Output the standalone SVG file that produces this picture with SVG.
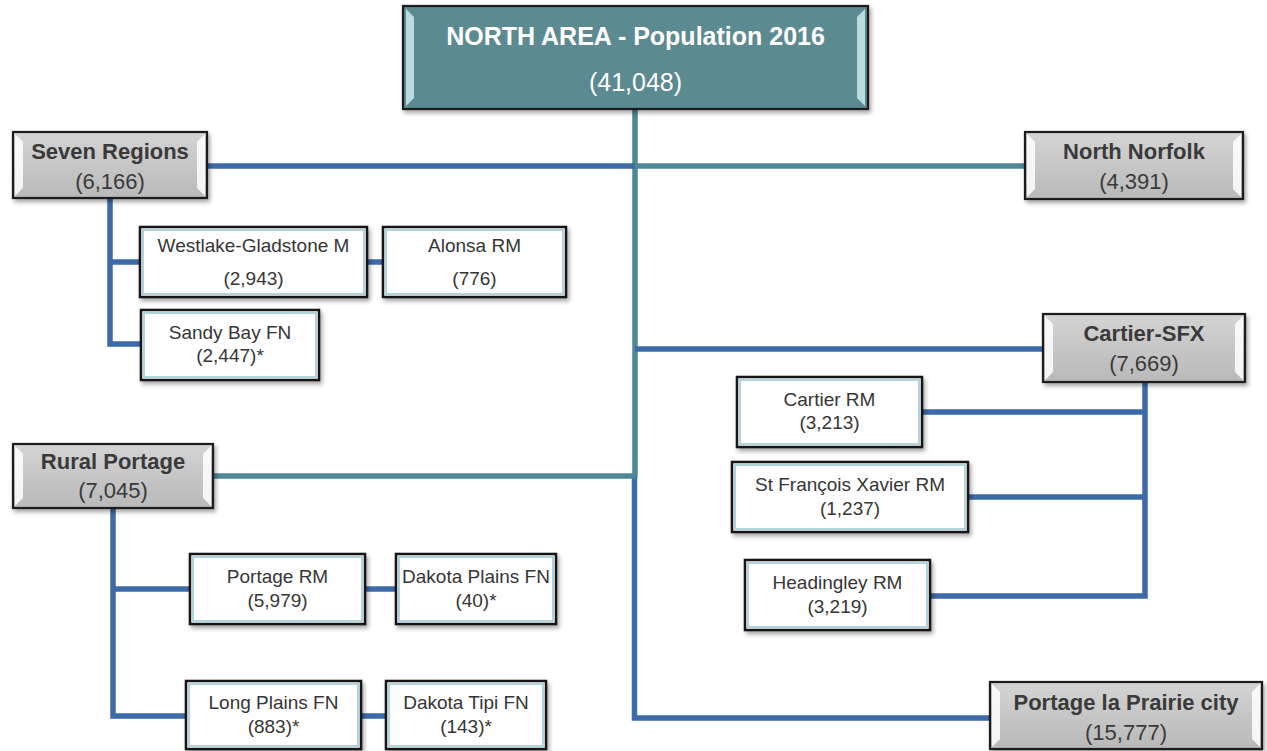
<svg xmlns="http://www.w3.org/2000/svg" width="1267" height="751" viewBox="0 0 1267 751">
<style>
.lb{stroke:#3d6aa8;stroke-width:5.5;fill:none}
.lt{stroke:#4e8795;stroke-width:5.5;fill:none}
.bx{fill:#fff;stroke:#141414;stroke-width:2.5}
.bxi{fill:none;stroke:#a9cfdb;stroke-width:1.8}
.hd{fill:url(#gg);stroke:#1a1a1a;stroke-width:2.2}
.tp{fill:#5c8a91;stroke:#1a1a1a;stroke-width:2.2}
.bv{fill:#ffffff;opacity:0.85}
.bvt{fill:#c4e4e8;opacity:0.9}
.t{font-family:"Liberation Sans",Arial,sans-serif;font-size:19px;fill:#363636;text-anchor:middle}
.hb{font-family:"Liberation Sans",Arial,sans-serif;font-size:22px;font-weight:bold;fill:#3a3a3a;text-anchor:middle}
.hr{font-family:"Liberation Sans",Arial,sans-serif;font-size:22px;fill:#3a3a3a;text-anchor:middle}
.tb{font-family:"Liberation Sans",Arial,sans-serif;font-size:25px;font-weight:bold;fill:#fff;text-anchor:middle}
.tr{font-family:"Liberation Sans",Arial,sans-serif;font-size:25px;fill:#fff;text-anchor:middle}
</style>
<defs>
<linearGradient id="gg" x1="0" y1="0" x2="0" y2="1">
<stop offset="0" stop-color="#d4d4d4"/>
<stop offset="1" stop-color="#b9b9b9"/>
</linearGradient>
<filter id="sh" x="-10%" y="-10%" width="125%" height="135%">
<feDropShadow dx="2" dy="3" stdDeviation="2" flood-color="#000" flood-opacity="0.35"/>
</filter>
</defs>
<rect width="1267" height="751" fill="#fff"/>
<g id="connectors">
<path class="lt" d="M635,109 V477"/>
<path class="lb" d="M634.5,477 V718 H990"/>
<path class="lb" d="M207,166 H635"/>
<path class="lt" d="M635,166 H1025"/>
<path class="lb" d="M635,349 H1043"/>
<path class="lt" d="M213,476 H635"/>
<path class="lb" d="M110,198 V344 H141"/>
<path class="lb" d="M110,262 H140"/>
<path class="lb" d="M367,262 H383"/>
<path class="lb" d="M1145,382 V596 H930"/>
<path class="lb" d="M1145,412 H922"/>
<path class="lb" d="M1145,497 H968"/>
<path class="lb" d="M113,508 V716 H186"/>
<path class="lb" d="M113,589 H190"/>
<path class="lb" d="M365,589 H396"/>
<path class="lb" d="M361,716 H386"/>
</g>
<g id="north-area">
<rect class="tp" x="403" y="6" width="465" height="103" filter="url(#sh)"/>
<polygon class="bvt" points="406,9 414,17 414,98 406,106"/>
<polygon class="bvt" points="865,9 857,17 857,98 865,106"/>
<text class="tb" x="635.5" y="45">NORTH AREA - Population 2016</text>
<text class="tr" x="635.5" y="91">(41,048)</text>
</g>
<g id="seven-regions">
<rect class="hd" x="13" y="132" width="194" height="66" filter="url(#sh)"/>
<polygon class="bv" points="15,134 23,142 23,188 15,196"/>
<polygon class="bv" points="205,134 197,142 197,188 205,196"/>
<text class="hb" x="110" y="159">Seven Regions</text>
<text class="hr" x="110" y="189">(6,166)</text>
</g>
<g id="north-norfolk">
<rect class="hd" x="1025" y="132" width="218" height="67" filter="url(#sh)"/>
<polygon class="bv" points="1027,134 1035,142 1035,189 1027,197"/>
<polygon class="bv" points="1241,134 1233,142 1233,189 1241,197"/>
<text class="hb" x="1134" y="159">North Norfolk</text>
<text class="hr" x="1134" y="189">(4,391)</text>
</g>
<g id="cartier-sfx">
<rect class="hd" x="1043" y="314" width="202" height="68" filter="url(#sh)"/>
<polygon class="bv" points="1045,316 1053,324 1053,372 1045,380"/>
<polygon class="bv" points="1243,316 1235,324 1235,372 1243,380"/>
<text class="hb" x="1144" y="341">Cartier-SFX</text>
<text class="hr" x="1144" y="371">(7,669)</text>
</g>
<g id="rural-portage">
<rect class="hd" x="13" y="444" width="200" height="64" filter="url(#sh)"/>
<polygon class="bv" points="15,446 23,454 23,498 15,506"/>
<polygon class="bv" points="211,446 203,454 203,498 211,506"/>
<text class="hb" x="113" y="469">Rural Portage</text>
<text class="hr" x="113" y="498">(7,045)</text>
</g>
<g id="portage-la-prairie">
<rect class="hd" x="990" y="682" width="272" height="67" filter="url(#sh)"/>
<polygon class="bv" points="992,684 1000,692 1000,739 992,747"/>
<polygon class="bv" points="1260,684 1252,692 1252,739 1260,747"/>
<text class="hb" x="1126" y="710">Portage la Prairie city</text>
<text class="hr" x="1126" y="740">(15,777)</text>
</g>
<g id="westlake">
<rect class="bx" x="140" y="227" width="227" height="70" filter="url(#sh)"/>
<rect class="bxi" x="143" y="230" width="221" height="64"/>
<text class="t" x="253.5" y="252">Westlake-Gladstone M</text>
<text class="t" x="253.5" y="285">(2,943)</text>
</g>
<g id="alonsa">
<rect class="bx" x="383" y="227" width="183" height="70" filter="url(#sh)"/>
<rect class="bxi" x="386" y="230" width="177" height="64"/>
<text class="t" x="474.5" y="252">Alonsa RM</text>
<text class="t" x="474.5" y="285">(776)</text>
</g>
<g id="sandy-bay">
<rect class="bx" x="141" y="310" width="178" height="70" filter="url(#sh)"/>
<rect class="bxi" x="144" y="313" width="172" height="64"/>
<text class="t" x="230" y="339">Sandy Bay FN</text>
<text class="t" x="230" y="362">(2,447)*</text>
</g>
<g id="cartier-rm">
<rect class="bx" x="737" y="377" width="185" height="70" filter="url(#sh)"/>
<rect class="bxi" x="740" y="380" width="179" height="64"/>
<text class="t" x="829.5" y="406">Cartier RM</text>
<text class="t" x="829.5" y="429">(3,213)</text>
</g>
<g id="sfx-rm">
<rect class="bx" x="732" y="462" width="236" height="70" filter="url(#sh)"/>
<rect class="bxi" x="735" y="465" width="230" height="64"/>
<text class="t" x="850" y="491">St François Xavier RM</text>
<text class="t" x="850" y="515">(1,237)</text>
</g>
<g id="headingley">
<rect class="bx" x="745" y="560" width="185" height="70" filter="url(#sh)"/>
<rect class="bxi" x="748" y="563" width="179" height="64"/>
<text class="t" x="837.5" y="589">Headingley RM</text>
<text class="t" x="837.5" y="613">(3,219)</text>
</g>
<g id="portage-rm">
<rect class="bx" x="190" y="554" width="175" height="70" filter="url(#sh)"/>
<rect class="bxi" x="193" y="557" width="169" height="64"/>
<text class="t" x="277.5" y="583">Portage RM</text>
<text class="t" x="277.5" y="607">(5,979)</text>
</g>
<g id="dakota-plains">
<rect class="bx" x="396" y="554" width="160" height="70" filter="url(#sh)"/>
<rect class="bxi" x="399" y="557" width="154" height="64"/>
<text class="t" x="476" y="583">Dakota Plains FN</text>
<text class="t" x="476" y="607">(40)*</text>
</g>
<g id="long-plains">
<rect class="bx" x="186" y="681" width="175" height="68" filter="url(#sh)"/>
<rect class="bxi" x="189" y="684" width="169" height="62"/>
<text class="t" x="273.5" y="709">Long Plains FN</text>
<text class="t" x="273.5" y="733">(883)*</text>
</g>
<g id="dakota-tipi">
<rect class="bx" x="386" y="681" width="160" height="68" filter="url(#sh)"/>
<rect class="bxi" x="389" y="684" width="154" height="62"/>
<text class="t" x="466" y="709">Dakota Tipi FN</text>
<text class="t" x="466" y="733">(143)*</text>
</g>
</svg>
